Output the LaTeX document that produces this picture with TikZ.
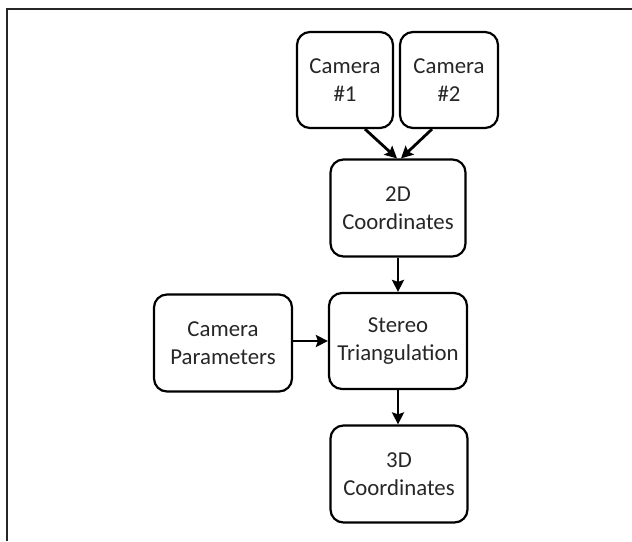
\documentclass[tikz,border=0pt]{standalone}
\usepackage{fontspec}
\setmainfont{Carlito}
\usepackage{tikz}
\usetikzlibrary{arrows.meta,positioning,calc}

\begin{document}
\begin{tikzpicture}[x=1pt,y=-1pt,line width=2.2pt,
    font=\fontsize{22.8}{27.5}\selectfont,
    blk/.style={draw,rounded corners=13pt,align=center,inner sep=0pt,text=black!85},
    flow/.style={line width=2.8pt,-{Stealth[length=12pt,width=12pt,inset=2pt]}}]
  \useasboundingbox (0,0) rectangle (632,541);
  \draw[black!85,line width=2pt] (7,541) -- (7,9) -- (632,9);
  \node[blk,minimum width=96pt,minimum height=96pt] (cam1) at (345,80) {Camera\\\#1};
  \node[blk,minimum width=98pt,minimum height=96pt] (cam2) at (449,80) {Camera\\\#2};
  \node[blk,minimum width=135pt,minimum height=97pt] (c2d) at (398,208) {2D\\Coordinates};
  \node[blk,minimum width=138pt,minimum height=96pt] (stereo) at (398,341) {Stereo\\Triangulation};
  \node[blk,minimum width=138pt,minimum height=97pt] (params) at (223,343) {Camera\\Parameters};
  \node[blk,minimum width=137pt,minimum height=97pt] (c3d) at (399,474) {3D\\Coordinates};
  \draw[flow] ($(cam1.south)+(20,0)$) -- ($(c2d.north)+(-1,0)$);
  \draw[flow] ($(cam2.south)+(-17,0)$) -- ($(c2d.north)+(3,0)$);
  \draw[flow] (c2d.south) -- (stereo.north);
  \draw[flow] (params.east |- stereo.west) -- (stereo.west);
  \draw[flow] (stereo.south) -- (stereo.south |- c3d.north);
\end{tikzpicture}
\end{document}
